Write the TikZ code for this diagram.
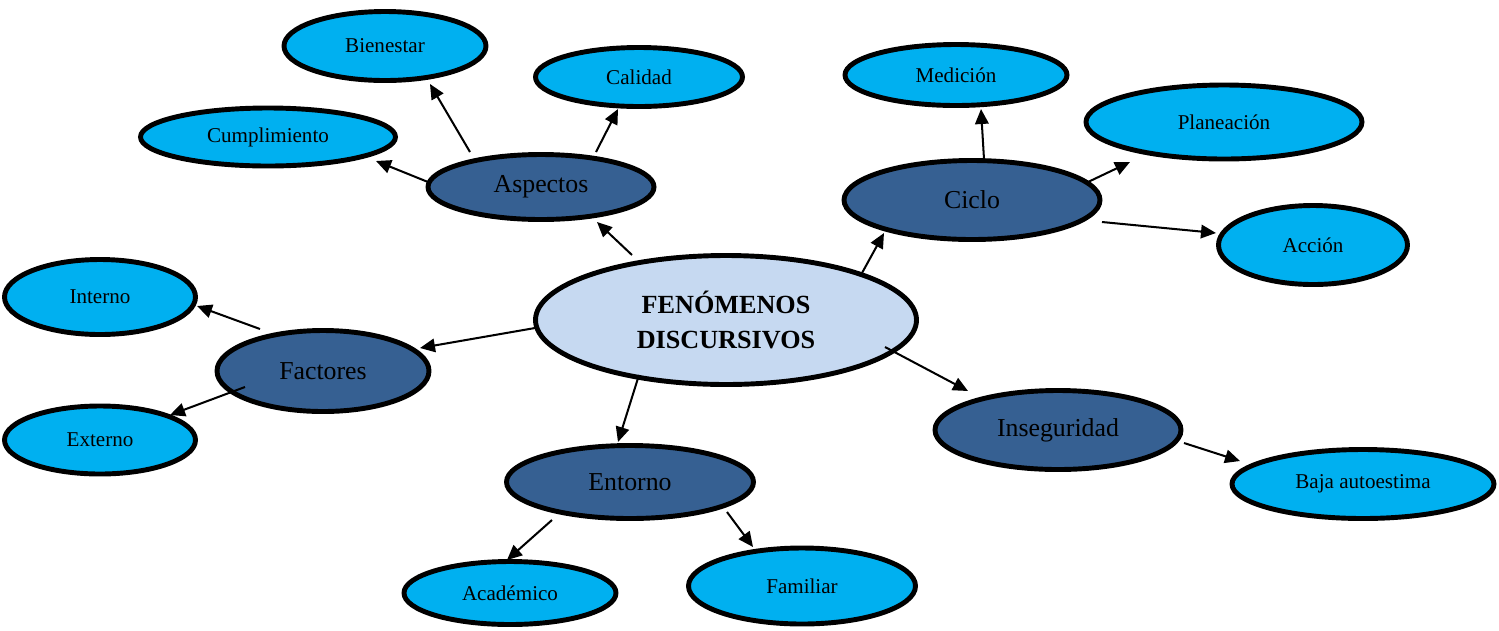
\documentclass[tikz,border=0pt]{standalone}
\usepackage{fontspec}
\setmainfont{Liberation Serif}
\usetikzlibrary{shapes.geometric,arrows.meta,calc}
\definecolor{leafc}{RGB}{0,176,240}
\definecolor{midc}{RGB}{54,96,146}
\definecolor{corec}{RGB}{198,217,241}
\tikzset{
  base/.style={ellipse, draw=black, line width=2.8pt, inner sep=0pt, text=black},
  leaf/.style={base, fill=leafc, font=\fontsize{12}{14}\selectfont},
  mid/.style={base, fill=midc, font=\fontsize{14.7}{17}\selectfont},
  core/.style={base, fill=corec, align=center, font=\bfseries\fontsize{14.9}{19.8}\selectfont},
  sz/.style 2 args={minimum width=#1*0.02cm, minimum height=#2*0.02cm},
  arr/.style={-{Triangle[length=0.3cm,width=0.27cm]}, line width=1.15pt}
}
\begin{document}
\begin{tikzpicture}[x=0.02cm, y=-0.02cm]
\useasboundingbox (0,0) rectangle (1499,630);
% central
\node[core, sz={381}{129}] (cen) at (726,320) {FENÓMENOS\\DISCURSIVOS};
% middle nodes
\node[mid, sz={226}{65}] (asp) at (541,187) {Aspectos};
\node[mid, sz={256}{79}] (cic) at (972,200) {Ciclo};
\node[mid, sz={212}{81}] (fac) at (323,371) {Factores};
\node[mid, sz={247}{73}] (ent) at (630,482) {Entorno};
\node[mid, sz={246}{79}] (ins) at (1058,430) {Inseguridad};
% leaves
\node[leaf, sz={202}{69}] (bie) at (385,46) {Bienestar};
\node[leaf, sz={207}{59}] (cal) at (639,77) {Calidad};
\node[leaf, sz={255}{58}] (cum) at (268,137) {Cumplimiento};
\node[leaf, sz={222}{61}] (med) at (956,75) {Medición};
\node[leaf, sz={276}{74}] (pla) at (1224,122) {Planeación};
\node[leaf, sz={189}{79}] (acc) at (1313,245) {Acción};
\node[leaf, sz={191}{75}] (int) at (100,297) {Interno};
\node[leaf, sz={191}{68}] (ext) at (100,440) {Externo};
\node[leaf, sz={212}{63}] (aca) at (510,593) {Académico};
\node[leaf, sz={227}{76}] (fam) at (802,586) {Familiar};
\node[leaf, sz={262}{69}] (baj) at (1363,484) {Baja autoestima};
% arrows
\draw[arr] ($(cen)+(-94,-65)$) -- ($(asp)+(56,35)$);
\draw[arr] ($(asp)+(-113,-5)$) -- ($(cum)+(108,24)$);
\draw[arr] ($(asp)+(-71,-35)$) -- ($(bie)+(45,38)$);
\draw[arr] ($(asp)+(55,-35)$) -- ($(cal)+(-21,32)$);
\draw[arr] ($(cen)+(136,-47)$) -- ($(cic)+(-88,33)$);
\draw[arr] ($(cic)+(12,-41)$) -- ($(med)+(25,34)$);
\draw[arr] ($(cic)+(116,-18)$) -- ($(pla)+(-94,40)$);
\draw[arr] ($(cic)+(130,22)$) -- ($(acc)+(-97,-12)$);
\draw[arr] ($(cen)+(-191,8)$) -- ($(fac)+(97,-23)$);
\draw[arr] ($(fac)+(-63,-42)$) -- ($(int)+(97,9)$);
\draw[arr] ($(fac)+(-78,16)$) -- ($(ext)+(70,-25)$);
\draw[arr] ($(cen)+(-87,55)$) -- ($(ent)+(-12,-40)$);
\draw[arr] ($(ent)+(-78,38)$) -- ($(aca)+(-3,-33)$);
\draw[arr] ($(ent)+(97,30)$) -- ($(fam)+(-49,-39)$);
\draw[arr] ($(cen)+(159,27)$) -- ($(ins)+(-90,-39)$);
\draw[arr] ($(ins)+(126,13)$) -- ($(baj)+(-123,-23)$);
\end{tikzpicture}
\end{document}
